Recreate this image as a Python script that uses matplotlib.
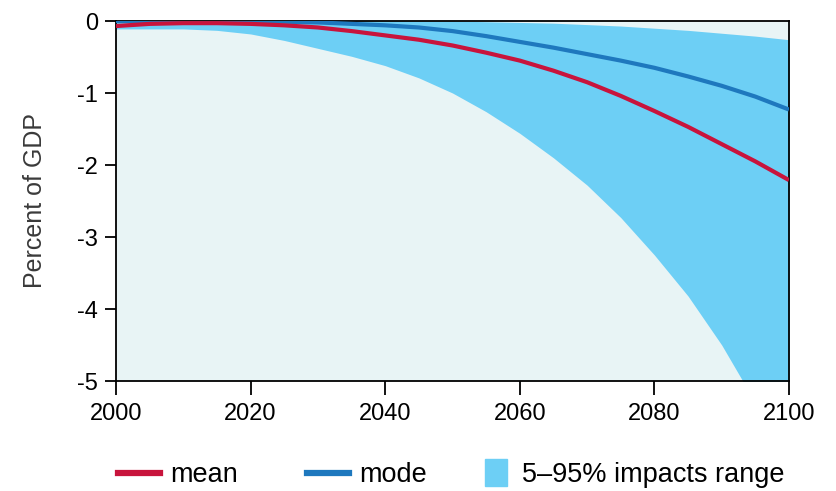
import matplotlib
matplotlib.use('Agg')
import matplotlib.pyplot as plt
from matplotlib.lines import Line2D
from matplotlib.patches import Patch, Rectangle
from matplotlib.legend_handler import HandlerPatch

# values (percent of GDP), every 5 years
years = [2000, 2005, 2010, 2015, 2020, 2025, 2030, 2035, 2040, 2045, 2050,
         2055, 2060, 2065, 2070, 2075, 2080, 2085, 2090, 2095, 2100]
mean_vals = [-0.07, -0.04, -0.03, -0.03, -0.04, -0.06, -0.09, -0.14, -0.20, -0.26, -0.34,
             -0.44, -0.55, -0.69, -0.85, -1.04, -1.25, -1.47, -1.71, -1.95, -2.21]
mode_vals = [0.0, 0.0, 0.0, 0.0, 0.0, -0.01, -0.02, -0.04, -0.06, -0.09, -0.14,
             -0.21, -0.29, -0.37, -0.46, -0.55, -0.65, -0.77, -0.90, -1.05, -1.23]
upper_vals = [0.0, 0.0, 0.0, 0.0, 0.0, 0.0, 0.0, 0.0, 0.0, 0.0, 0.0,
              -0.01, -0.02, -0.03, -0.05, -0.07, -0.10, -0.13, -0.17, -0.21, -0.26]
lower_vals = [-0.11, -0.11, -0.11, -0.13, -0.18, -0.27, -0.38, -0.49, -0.62, -0.79, -1.0,
              -1.26, -1.56, -1.90, -2.28, -2.73, -3.25, -3.82, -4.5, -5.3, -6.2]

xticks = [2000, 2020, 2040, 2060, 2080, 2100]
yticks = [0, -1, -2, -3, -4, -5]

red = '#C8143C'
blue = '#1E78BE'
band = '#6DCFF5'
bg = '#E8F4F5'

plt.rcParams['font.family'] = ['Liberation Sans', 'DejaVu Sans']

fig = plt.figure(figsize=(8.37, 4.91), dpi=100)
ax = fig.add_axes([116/837, 110/491, 673/837, 360/491])
ax.set_facecolor(bg)

ax.fill_between(years, lower_vals, upper_vals, color=band, lw=0, zorder=1)
ax.plot(years, mode_vals, color=blue, lw=3, zorder=3, solid_capstyle='butt')
ax.plot(years, mean_vals, color=red, lw=3, zorder=4, solid_capstyle='butt')

ax.set_xlim(2000, 2100)
ax.set_ylim(-5, 0)
ax.set_xticks(xticks)
ax.set_yticks(yticks)
ax.set_yticklabels([str(v) for v in yticks])
ax.tick_params(axis='x', direction='out', length=10, width=1.3, labelsize=17, pad=6)
ax.tick_params(axis='y', direction='out', length=8, width=1.3, labelsize=17, pad=5)
for s in ax.spines.values():
    s.set_linewidth(1.3)
    s.set_zorder(2)
ax.set_ylabel('Percent of GDP', fontsize=18, color='#3a3a3a', labelpad=22)


def tall_box(legend, orig_handle, xdescent, ydescent, width, height, fontsize):
    return Rectangle((-xdescent, -ydescent + height / 2 - 9.7), width, 19.4)


# one legend per item so the gaps match the original
fs = 19.5
leg_y = 1 - 475/491
items = [
    (Line2D([], [], color=red, lw=4.5), 'mean', 118, 1.55, 0.38),
    (Line2D([], [], color=blue, lw=4.5), 'mode', 307, 1.55, 0.38),
    (Patch(color=band), '5\u201395% impacts range', 485, 0.81, 0.55),
]
for h, lab, x0, hl, tp in items:
    fig.legend([h], [lab], loc='center left', bbox_to_anchor=(x0/837, leg_y),
               frameon=False, fontsize=fs, handlelength=hl, handletextpad=tp,
               borderpad=0, borderaxespad=0,
               handler_map={Patch: HandlerPatch(patch_func=tall_box)})

fig.savefig('out.png', dpi=100)
